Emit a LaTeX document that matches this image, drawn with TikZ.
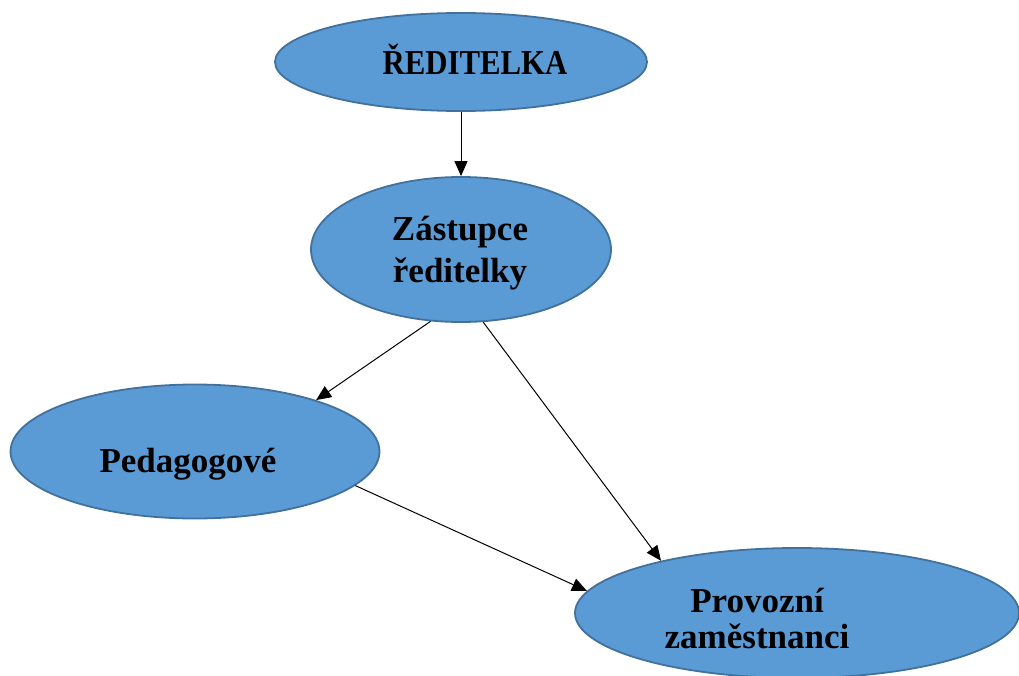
\documentclass[tikz,border=0pt]{standalone}
\usepackage{fontspec}
\setmainfont{Liberation Serif}
\usetikzlibrary{shapes.geometric,arrows.meta}
\definecolor{fillblue}{HTML}{5B9BD5}
\definecolor{lineblue}{HTML}{41719C}
\begin{document}
\begin{tikzpicture}[x=1pt,y=-1pt,
 oval/.style={ellipse,draw=lineblue,fill=fillblue,line width=1.8pt,inner sep=0pt},
 lbl/.style={font=\bfseries\fontsize{35}{42}\selectfont,align=center,inner sep=0pt},
 arr/.style={-{Triangle[length=15pt,width=13pt]},line width=1pt,black}]
\useasboundingbox (0,0) rectangle (1019,676);
\node[oval,minimum width=372pt,minimum height=98pt] (red) at (461,62) {};
\node[oval,minimum width=300pt,minimum height=145pt] (zast) at (461,249.5) {};
\node[oval,minimum width=369pt,minimum height=134pt] (ped) at (195,451.5) {};
\node[oval,minimum width=444pt,minimum height=130pt] (prov) at (797,613) {};
\node[lbl,anchor=base] (redT) at (475,75) {\scalebox{0.88}[1]{ŘEDITELKA}};
\node[lbl,anchor=base] (zastT) at (460,282) {Zástupce\\ ředitelky};
\node[lbl,anchor=base] (pedT) at (188,472) {Pedagogové};
\node[lbl,anchor=base,font=\bfseries\fontsize{35}{36}\selectfont] (provT) at (757,648) {Provozní\\ zaměstnanci};
\draw[arr] (red.south) -- (zast.north);
\draw[arr] (zast.-113.7) -- (ped.23.4);
\draw[arr] (zast.-73.7) -- (prov.159.5);
\draw[arr] (ped.-12.5) -- (prov.174.3);
\end{tikzpicture}
\end{document}
